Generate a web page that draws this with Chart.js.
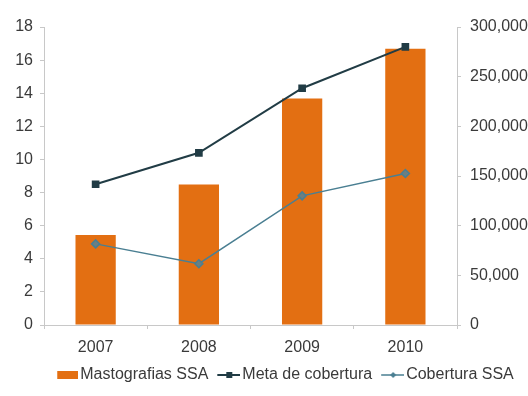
<!DOCTYPE html>
<html>
<head>
<meta charset="utf-8">
<script src="https://cdn.jsdelivr.net/npm/chart.js@4.4.1/dist/chart.umd.min.js"></script>
<style>
  html, body { margin: 0; padding: 0; background: #fff; }
  #wrap { width: 528px; height: 396px; }
</style>
</head>
<body>
<div id="wrap"><canvas id="myChart" width="528" height="396"></canvas></div>
<script>
const years = ['2007', '2008', '2009', '2010'];
const mastografias = [90500, 141500, 228000, 278000];
const metaCobertura = [8.5, 10.4, 14.3, 16.8];
const coberturaSSA = [4.9, 3.7, 7.8, 9.15];

const ORANGE = '#e36f12';
const DARK = '#213c45';
const TEAL = '#4a7f92';
const TEXT = '#3a3a3a';
const FONT = { family: 'Liberation Sans, Arial, sans-serif', size: 16 };

// legend glyphs on offscreen canvases; the glyph sits at the right end so
// the transparent left part spaces the items apart
const GLYPH_BOX = 22;
function legendGlyph(kind) {
    const c = document.createElement('canvas');
    c.width = GLYPH_BOX + 12;
    c.height = 10;
    const g = c.getContext('2d');
    const right = c.width;
    if (kind === 'bar') {
        g.fillStyle = ORANGE;
        g.fillRect(right - 21, 1, 21, 8);
    } else {
        const col = kind === 'meta' ? DARK : TEAL;
        const left = right - 23;
        g.strokeStyle = col;
        g.lineWidth = kind === 'meta' ? 2 : 1.5;
        g.beginPath(); g.moveTo(left, 5); g.lineTo(right, 5); g.stroke();
        g.fillStyle = col;
        if (kind === 'meta') {
            g.fillRect(left + 9, 2, 6, 6);
        } else {
            g.beginPath();
            g.moveTo(left + 12, 2); g.lineTo(left + 15, 5); g.lineTo(left + 12, 8); g.lineTo(left + 9, 5);
            g.closePath(); g.fill();
        }
    }
    return c;
}

const glyphs = [legendGlyph('bar'), legendGlyph('meta'), legendGlyph('cob')];

// nudge the legend row to the right of the canvas centre
const legendShift = {
    id: 'legendShift',
    afterLayout(chart) {
        chart.legend.left += 18;
        chart.legend.right += 18;
    }
};

const ctx = document.getElementById('myChart').getContext('2d');
new Chart(ctx, {
    data: {
        labels: years,
        datasets: [
            {
                type: 'line',
                label: 'Meta de cobertura',
                data: metaCobertura,
                yAxisID: 'y',
                borderColor: DARK,
                backgroundColor: DARK,
                borderWidth: 2,
                pointStyle: 'rect',
                pointRadius: 4,
                tension: 0,
                order: 1
            },
            {
                type: 'line',
                label: 'Cobertura SSA',
                data: coberturaSSA,
                yAxisID: 'y',
                borderColor: TEAL,
                backgroundColor: '#6d7f80',
                borderWidth: 1.5,
                pointStyle: 'rectRot',
                pointRadius: 4,
                tension: 0,
                order: 2
            },
            {
                type: 'bar',
                label: 'Mastografias SSA',
                data: mastografias,
                yAxisID: 'y2',
                backgroundColor: ORANGE,
                categoryPercentage: 1,
                barPercentage: 0.39,
                order: 3
            }
        ]
    },
    plugins: [legendShift],
    options: {
        responsive: false,
        animation: false,
        layout: { padding: { top: 27, right: 0, bottom: 3, left: 0 } },
        plugins: {
            tooltip: { enabled: false },
            legend: {
                position: 'bottom',
                labels: {
                    usePointStyle: true,
                    pointStyleWidth: GLYPH_BOX,
                    padding: 4,
                    color: TEXT,
                    font: FONT,
                    generateLabels: () => [
                        { text: 'Mastografias SSA', pointStyle: glyphs[0], fontColor: TEXT, datasetIndex: 2 },
                        { text: 'Meta de cobertura', pointStyle: glyphs[1], fontColor: TEXT, datasetIndex: 0 },
                        { text: 'Cobertura SSA', pointStyle: glyphs[2], fontColor: TEXT, datasetIndex: 1 }
                    ]
                }
            }
        },
        scales: {
            x: {
                afterFit: s => { s.height = 38; },
                grid: { drawOnChartArea: false, tickLength: 4, color: '#c8c8c8' },
                border: { color: '#c8c8c8' },
                ticks: { color: TEXT, padding: 9, font: FONT }
            },
            y: {
                position: 'left',
                min: 0,
                max: 18,
                afterFit: s => { s.width = 44; },
                grid: { drawOnChartArea: false, tickLength: 4, color: '#c8c8c8' },
                border: { color: '#c8c8c8' },
                ticks: { stepSize: 2, color: TEXT, padding: 7, font: FONT }
            },
            y2: {
                position: 'right',
                min: 0,
                max: 300000,
                afterFit: s => { s.width = 71; },
                grid: { drawOnChartArea: false, tickLength: 4, color: '#c8c8c8' },
                border: { color: '#c8c8c8' },
                ticks: { stepSize: 50000, color: TEXT, padding: 9, font: FONT }
            }
        }
    }
});
</script>
</body>
</html>
